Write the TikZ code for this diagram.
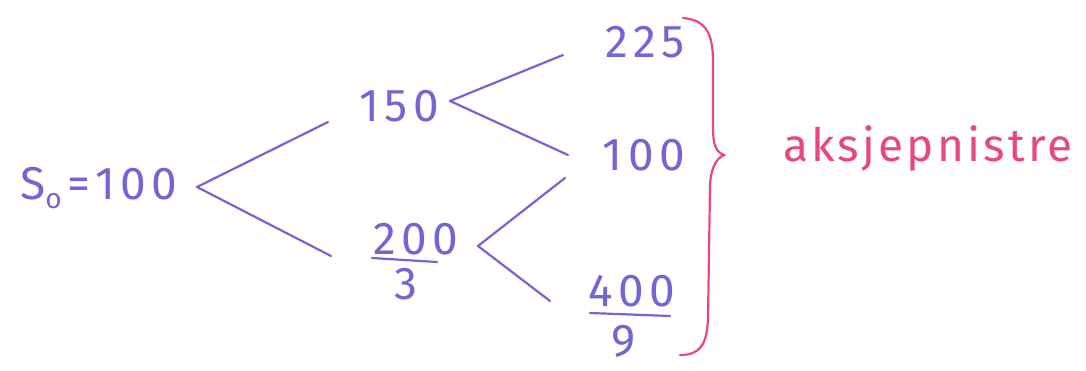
\documentclass[tikz,border=0pt]{standalone}
\usepackage{fontspec}
\setmainfont{Fira Sans}
\newfontfamily\numfont[LetterSpace=12]{Fira Sans}
\newfontfamily\notefont[LetterSpace=7]{Fira Sans}
\definecolor{ink}{RGB}{112,102,212}
\definecolor{pinkink}{RGB}{232,72,125}
\tikzset{
  num/.style={text=ink, inner sep=0pt, font=\numfont\fontsize{46}{50}\selectfont},
  edge/.style={draw=ink, line width=2.2pt, line cap=round},
  note/.style={text=pinkink, inner sep=0pt, font=\notefont\fontsize{46}{52}\selectfont}
}
\begin{document}
\begin{tikzpicture}[x=1pt,y=-1pt]
\useasboundingbox (0,0) rectangle (1086,371);
% nodes
\node[num] (s0) at (99,188) {S\raisebox{-9pt}{\fontsize{28}{30}\selectfont o}\hspace{6pt}=100};
\node[num] (u) at (399,106) {150};
\node[num] (dn) at (416,239) {200};
\node[num] (dd) at (406,284) {3};
\coordinate (dl1) at (372,258);
\coordinate (dl2) at (437,262);
\node[num] (uu) at (645,42) {225};
\node[num] (ud) at (644,155) {100};
\node[num] (ddn) at (632,291) {400};
\node[num] (ddd) at (624,341) {9};
\coordinate (ddl1) at (590,313);
\coordinate (ddl2) at (670,316);
% edge endpoints
\coordinate (s0r) at (197,187);
\coordinate (ul) at (328,122);
\coordinate (dl) at (331,256);
\coordinate (ur) at (450,101);
\coordinate (uuL) at (563,55);
\coordinate (udL) at (568,155);
\coordinate (dr) at (478,246);
\coordinate (udL2) at (565,178);
\coordinate (ddL) at (550,301);
% edges
\draw[edge] (s0r) -- (ul);
\draw[edge] (s0r) -- (dl);
\draw[edge] (ur) -- (uuL);
\draw[edge] (ur) -- (udL);
\draw[edge] (dr) -- (udL2);
\draw[edge] (dr) -- (ddL);
\draw[edge] (dl1) -- (dl2);
\draw[edge] (ddl1) -- (ddl2);
% brace
\coordinate (bt) at (683,18);
\coordinate (bm) at (724,155);
\coordinate (bb) at (680,355);
\draw[draw=pinkink, line width=2.2pt, line cap=round]
  (bt) .. controls (705,20) and (713,32) .. (713,62) -- (713,128)
  .. controls (713,145) and (716,152) .. (bm)
  .. controls (716,158) and (710,170) .. (710,188) -- (708,318)
  .. controls (707,345) and (700,355) .. (bb);
\node[note] (lab) at (928,148) {aksjepnistre};
\end{tikzpicture}
\end{document}
